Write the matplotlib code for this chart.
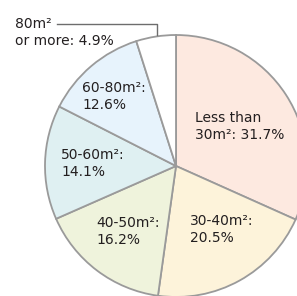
import matplotlib.pyplot as plt

labels = ["Less than\n30m²: 31.7%", "30-40m²:\n20.5%", "40-50m²:\n16.2%",
          "50-60m²:\n14.1%", "60-80m²:\n12.6%", "80m²\nor more: 4.9%"]
shares = [31.7, 20.5, 16.2, 14.1, 12.6, 4.9]
colors = ["#fde9e0", "#fdf3da", "#eff3dc", "#dff0f2", "#e7f3fc", "#ffffff"]
# label anchor (left, top) in pixels of the 297x296 picture
label_pos = [(195, 111), (190, 214), (96, 216), (61, 148), (82, 81), (15, 17)]

plt.rcParams['font.family'] = ['Liberation Sans Narrow', 'DejaVu Sans']

fig = plt.figure(figsize=(2.97, 2.96), dpi=100)
ax = fig.add_axes([0, 0, 1, 1])

cx, cy, r = 176, 296 - 166, 131
ax.pie(shares, colors=colors, startangle=90, counterclock=False,
       center=(cx, cy), radius=r,
       wedgeprops=dict(edgecolor="#9a9a9a", linewidth=1.3))
ax.set_xlim(0, 297)
ax.set_ylim(0, 296)
ax.set_aspect('equal')
ax.axis('off')

for lab, (x, y) in zip(labels, label_pos):
    ax.text(x, 296 - y, lab, ha="left", va="top", fontsize=10,
            color="#231f20", linespacing=1.3)

# leader line for the small slice
ax.plot([57, 157, 157], [296 - 24, 296 - 24, 296 - 35], color="#6d6d6d", lw=1.0)

fig.savefig("out.png", dpi=100)
